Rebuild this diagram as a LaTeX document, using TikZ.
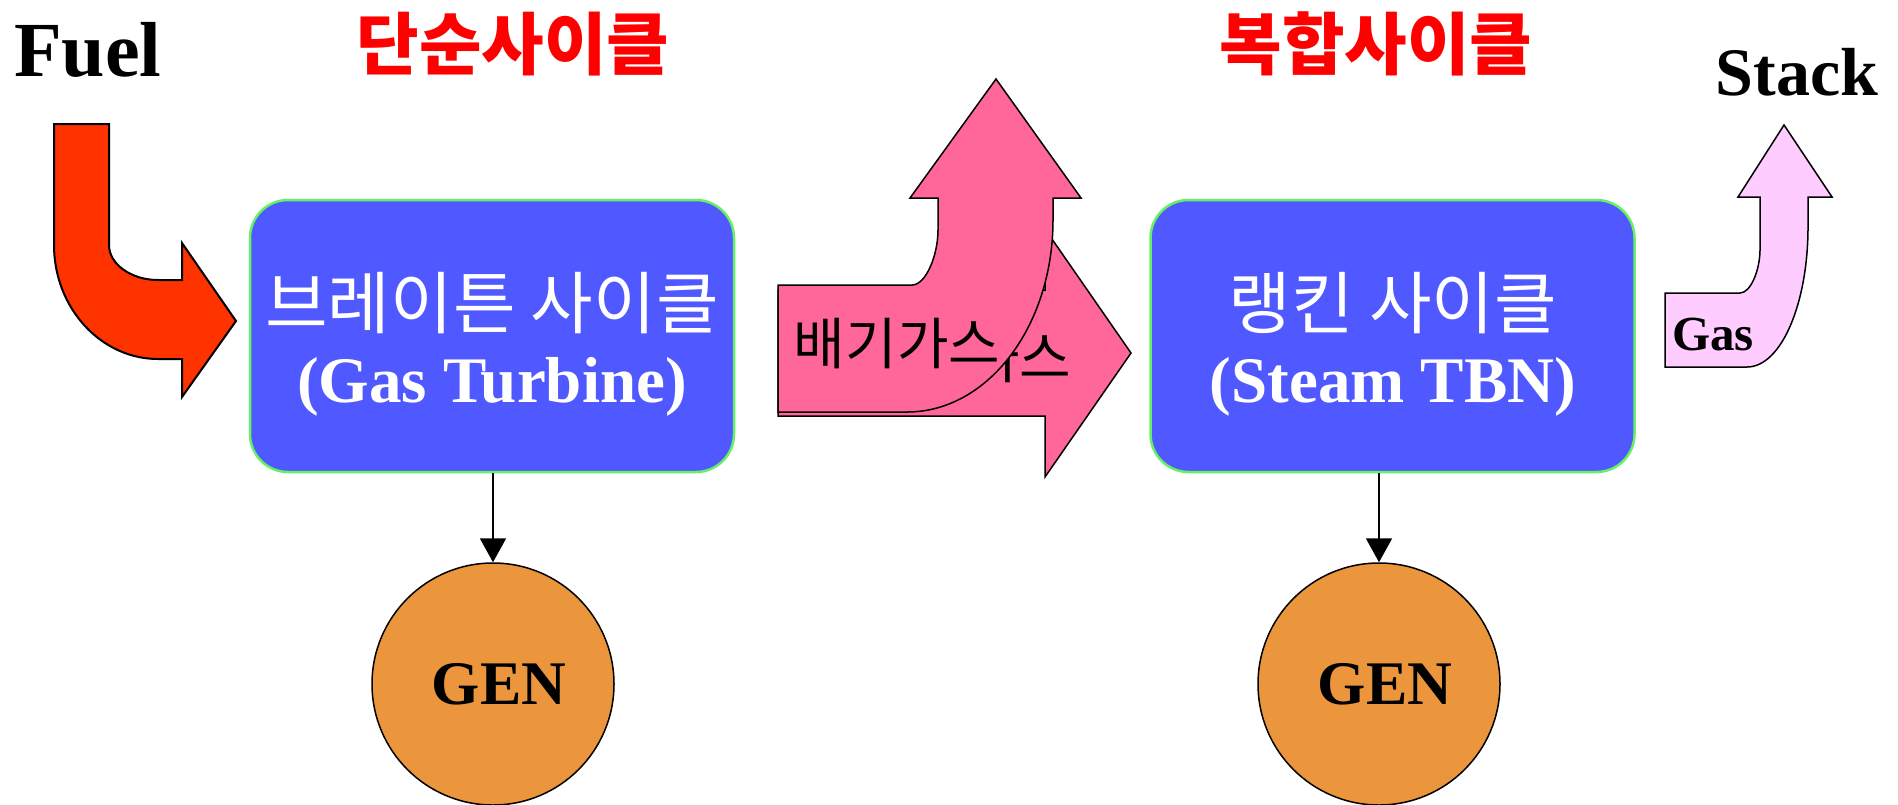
\documentclass[tikz,border=0pt]{standalone}
\usepackage{fontspec}
\setmainfont{Liberation Serif}
\newfontfamily\kr{Noto Sans CJK KR}
\usetikzlibrary{arrows.meta}
\definecolor{boxblue}{RGB}{80,88,255}
\definecolor{boxgreen}{RGB}{102,240,102}
\definecolor{fuelred}{RGB}{255,51,0}
\definecolor{exhpink}{RGB}{255,102,153}
\definecolor{stackpink}{RGB}{255,204,255}
\definecolor{genorange}{RGB}{235,150,60}
\tikzset{
  cyclebox/.style={draw=boxgreen, line width=2.5pt, fill=boxblue, rounded corners=38pt,
    minimum width=484pt, minimum height=272pt, inner sep=0pt},
  gencircle/.style={circle, draw=black, line width=1.5pt, fill=genorange, minimum size=242pt,
    inner sep=0pt, font=\fontsize{62}{62}\selectfont\bfseries},
  boxkr/.style={text=white, inner sep=0pt, font=\kr\fontsize{68}{68}\selectfont},
  boxen/.style={text=white, inner sep=0pt, anchor=base, font=\fontsize{65}{65}\selectfont\bfseries},
  titlekr/.style={text=red, inner sep=0pt, font=\kr\bfseries\fontsize{68}{68}\selectfont},
  bigarrow/.style={draw=black, line width=1.5pt, line join=miter},
  exhtext/.style={inner sep=0pt, font=\kr\fontsize{56}{56}\selectfont},
  genlink/.style={draw=black, line width=2pt, -{Triangle[width=26pt,length=24pt]}}
}
\begin{document}
\begin{tikzpicture}[x=1pt,y=-1pt]
\useasboundingbox (0,0) rectangle (1898,804);

% Fuel arrow
\path[bigarrow, fill=fuelred, line width=2pt]
  (54,124) -- (109,124) -- (109,245) .. controls (109,264) and (131,280) .. (158,280)
  -- (182,280) -- (182,243) -- (236,321) -- (182,397) -- (182,359) -- (158,359)
  .. controls (101,359) and (54,308) .. (54,245) -- cycle;
\node[anchor=base west, inner sep=0pt, font=\fontsize{78}{78}\selectfont\bfseries] (fuel) at (14,76) {Fuel};

% titles
\node[titlekr] (simple) at (513,44) {단순사이클};
\node[titlekr] (combined) at (1376,44) {복합사이클};
\node[anchor=base, inner sep=0pt, font=\fontsize{68}{68}\selectfont\bfseries] (stack) at (1797,95) {Stack};

% boxes
\node[cyclebox] (gt) at (492,336) {};
\node[boxkr] (gtkr) at (492,303.5) {브레이튼 사이클};
\node[boxen] (gten) at (492,402) {(Gas Turbine)};

\node[cyclebox] (st) at (1392.5,336) {};
\node[boxkr] (stkr) at (1393,303) {랭킨 사이클};
\node[boxen] (sten) at (1393,402) {(Steam TBN)};

% exhaust arrows
\path[bigarrow, fill=exhpink]
  (778,290) -- (1045,290) -- (1045,229) -- (1131,353) -- (1045,477) -- (1045,416) -- (778,416) -- cycle;
\node[exhtext] (exhback) at (968,358) {배기가스};
\path[bigarrow, fill=exhpink]
  (778,285) -- (912,285) .. controls (926,285) and (938,255) .. (938,230) -- (938,198)
  -- (910,198) -- (996,79) -- (1081,198) -- (1053,198) -- (1053,220)
  .. controls (1053,326) and (988,412) .. (907,412) -- (778,412) -- cycle;
\node[exhtext] (exhfront) at (897,344) {배기가스};

% stack arrow
\path[bigarrow, fill=stackpink]
  (1665,293) -- (1740,293) .. controls (1751,293) and (1760,269) .. (1760,250) -- (1760,197)
  -- (1738,197) -- (1784,125) -- (1832,197) -- (1808,197) -- (1808,227)
  .. controls (1808,304) and (1781,367) .. (1747,367) -- (1665,367) -- cycle;
\node[anchor=base west, inner sep=0pt, font=\fontsize{49}{49}\selectfont\bfseries] (gas) at (1672,350) {Gas};

% generators
\node[gencircle] (gen1) at (493,684) {\hspace*{12pt}GEN};
\node[gencircle] (gen2) at (1379,684) {\hspace*{12pt}GEN};
\draw[genlink] (gt.south -| gen1.north) -- (gen1.north);
\draw[genlink] (st.south -| gen2.north) -- (gen2.north);
\end{tikzpicture}
\end{document}
